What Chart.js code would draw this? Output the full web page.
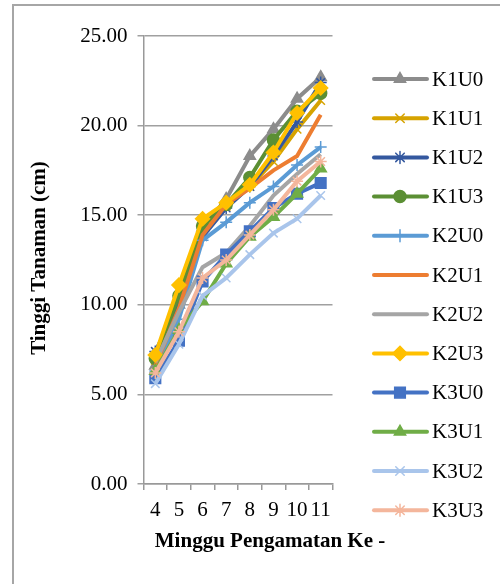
<!DOCTYPE html>
<html lang="id">
<head>
  <meta charset="UTF-8" />
  <title>Tinggi Tanaman</title>
  <script src="https://cdn.jsdelivr.net/npm/chart.js"></script>
  <style>
    body {
      margin: 0;
      padding: 0;
      background: white;
    }
    canvas {
      display: block;
    }
  </style>
</head>
<body>
  <canvas id="tinggiChart" width="500" height="584"></canvas>

  <script>
    // minggu pengamatan
    const minggu = ['4', '5', '6', '7', '8', '9', '10', '11'];

    // tinggi tanaman (cm) per perlakuan
    const K1U0 = [6.6, 10.0, 14.3, 15.9, 18.3, 19.8, 21.5, 22.7];
    const K1U1 = [6.9, 10.3, 14.3, 15.5, 16.6, 18.0, 19.8, 21.4];
    const K1U2 = [7.4, 10.0, 13.8, 15.4, 16.6, 18.3, 20.2, 22.4];
    const K1U3 = [7.0, 10.5, 14.4, 15.6, 17.1, 19.2, 20.8, 21.8];
    const K2U0 = [6.3, 9.2, 13.6, 14.6, 15.7, 16.6, 17.8, 18.8];
    const K2U1 = [6.6, 9.8, 13.9, 15.6, 16.5, 17.5, 18.3, 20.6];
    const K2U2 = [6.8, 9.6, 12.1, 12.9, 14.4, 16.1, 17.3, 18.4];
    const K2U3 = [7.2, 11.1, 14.8, 15.7, 16.7, 18.5, 20.7, 22.1];
    const K3U0 = [5.9, 8.0, 11.3, 12.8, 14.1, 15.4, 16.2, 16.8];
    const K3U1 = [6.3, 8.6, 10.2, 12.3, 13.8, 14.9, 16.2, 17.6];
    const K3U2 = [5.6, 7.8, 10.5, 11.5, 12.8, 14.0, 14.8, 16.1];
    const K3U3 = [6.2, 8.5, 11.5, 12.5, 13.9, 15.3, 16.9, 18.0];

    const yTicks = [0, 5, 10, 15, 20, 25];

    const serif = "'Liberation Serif', 'Times New Roman', serif";

    const series = [
      { label: 'K1U0', data: K1U0, color: '#8C8C8C', style: 'triangle', r: 6.5 },
      { label: 'K1U1', data: K1U1, color: '#D6A300', style: 'crossRot', r: 6 },
      { label: 'K1U2', data: K1U2, color: '#34589F', style: 'star', r: 6 },
      { label: 'K1U3', data: K1U3, color: '#5B8F34', style: 'circle', r: 6 },
      { label: 'K2U0', data: K2U0, color: '#5B9BD5', style: 'cross', r: 6 },
      { label: 'K2U1', data: K2U1, color: '#ED7D31', style: false, r: 0 },
      { label: 'K2U2', data: K2U2, color: '#A5A5A5', style: false, r: 0 },
      { label: 'K2U3', data: K2U3, color: '#FFC000', style: 'rectRot', r: 7 },
      { label: 'K3U0', data: K3U0, color: '#4472C4', style: 'rect', r: 7.5 },
      { label: 'K3U1', data: K3U1, color: '#70AD47', style: 'triangle', r: 6.5 },
      { label: 'K3U2', data: K3U2, color: '#A9C5EB', style: 'crossRot', r: 6 },
      { label: 'K3U3', data: K3U3, color: '#F4B69C', style: 'star', r: 6 }
    ];

    // judul sumbu, legenda dan bingkai digambar manual
    const extrasPlugin = {
      id: 'extras',
      afterDraw(chart) {
        const ctx = chart.ctx;
        ctx.save();

        // bingkai
        ctx.strokeStyle = '#A6A6A6';
        ctx.lineWidth = 2;
        ctx.strokeRect(13, 5, 520, 620);

        // judul sumbu x
        ctx.fillStyle = '#000';
        ctx.font = 'bold 21px ' + serif;
        ctx.textAlign = 'center';
        ctx.textBaseline = 'middle';
        ctx.fillText('Minggu Pengamatan Ke -', 270, 542);

        // judul sumbu y
        ctx.save();
        ctx.translate(40, 258);
        ctx.rotate(-Math.PI / 2);
        ctx.fillText('Tinggi Tanaman (cm)', 0, 0);
        ctx.restore();

        // legenda
        ctx.font = '21px ' + serif;
        ctx.textAlign = 'left';
        chart.data.datasets.forEach((ds, i) => {
          const y = 79 + i * 39.2;
          ctx.strokeStyle = ds.borderColor;
          ctx.fillStyle = ds.borderColor;
          ctx.lineWidth = 4;
          ctx.lineCap = 'round';
          ctx.beginPath();
          ctx.moveTo(374, y);
          ctx.lineTo(427, y);
          ctx.stroke();
          if (ds.pointStyle) {
            ctx.lineWidth = 1.5;
            Chart.helpers.drawPoint(ctx, {
              pointStyle: ds.pointStyle,
              radius: ds.pointRadius,
              rotation: 0,
              borderWidth: 1.5
            }, 400, y);
          }
          ctx.fillStyle = '#000';
          ctx.fillText(ds.label, 432, y + 1);
        });

        ctx.restore();
      }
    };

    new Chart(document.getElementById('tinggiChart'), {
      type: 'line',
      data: {
        labels: minggu,
        datasets: series.map((s, i) => ({
          label: s.label,
          data: s.data,
          borderColor: s.color,
          backgroundColor: s.color,
          borderWidth: 4,
          pointStyle: s.style,
          pointRadius: s.r,
          pointBorderWidth: 1.5,
          pointBackgroundColor: s.color,
          pointBorderColor: s.color,
          tension: 0,
          fill: false,
          order: 11 - i
        }))
      },
      options: {
        responsive: false,
        animation: false,
        devicePixelRatio: 1,
        layout: {
          padding: { top: 36, right: 167.5, left: 0, bottom: 0 }
        },
        plugins: {
          legend: { display: false },
          title: { display: false },
          tooltip: { enabled: false }
        },
        scales: {
          x: {
            offset: true,
            afterFit: s => { s.height = 100; },
            grid: {
              offset: true,
              drawOnChartArea: false,
              drawTicks: true,
              tickLength: 6,
              color: '#999',
              lineWidth: 1.5
            },
            border: { color: '#999', width: 1.5 },
            ticks: {
              color: '#000',
              font: { family: serif, size: 21 },
              padding: 8,
              autoSkip: false,
              maxRotation: 0
            }
          },
          y: {
            min: 0,
            max: 25,
            afterFit: s => { s.width = 143.5; },
            afterBuildTicks: s => { s.ticks = yTicks.map(v => ({ value: v })); },
            grid: {
              color: '#A0A0A0',
              lineWidth: 1.5,
              drawTicks: true,
              tickLength: 6
            },
            border: { color: '#999', width: 1.5 },
            ticks: {
              color: '#000',
              font: { family: serif, size: 21 },
              padding: 10,
              callback: v => v.toFixed(2)
            }
          }
        }
      },
      plugins: [extrasPlugin]
    });
  </script>
</body>
</html>
